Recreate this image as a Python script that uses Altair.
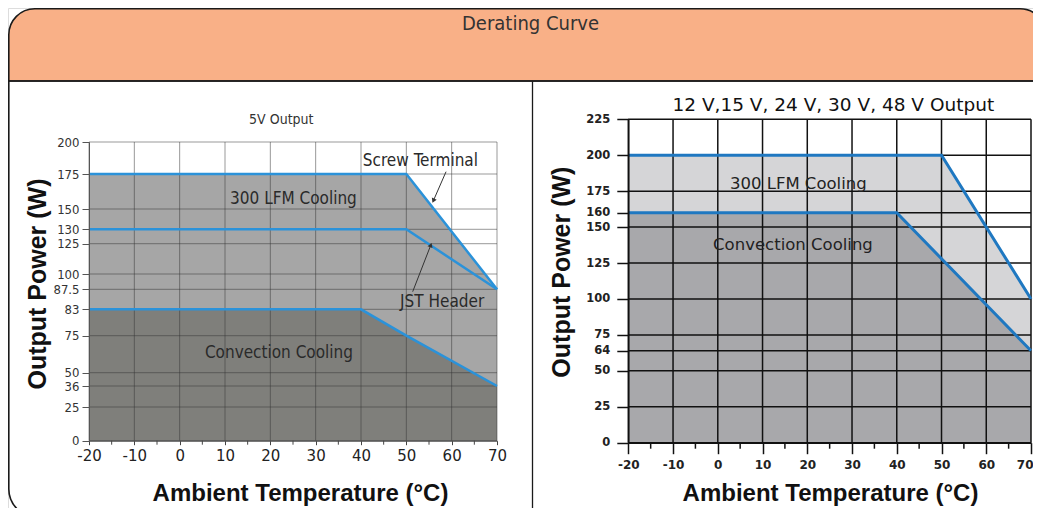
import altair as alt
import pandas as pd

# ---------------- data: 5 V panel ----------------
temps_axis = [-20, -10, 0, 10, 20, 30, 40, 50, 60, 70]
temps_minor = [-15, -5, 5, 15, 25, 35, 45, 55, 65]

screw_t = [-20, 50, 70]
screw_w = [175, 175, 87.5]
jst_t = [-20, 50, 70]
jst_w = [130, 130, 87.5]
conv5_t = [-20, 40, 50, 70]
conv5_w = [83, 83, 75, 36]
ticks_5v = [0, 25, 36, 50, 75, 83, 87.5, 100, 125, 130, 150, 175, 200]

# ---------------- data: 12-48 V panel ----------------
lfm_t = [-20, 50, 70]
lfm_w = [200, 200, 100]
convh_t = [-20, 40, 70]
convh_w = [160, 160, 64]
ticks_hv = [0, 25, 50, 64, 75, 100, 125, 150, 160, 175, 200, 225]

# ---------------- styling ----------------
NARROW = "Liberation Sans Narrow, Arial Narrow, DejaVu Sans Condensed, sans-serif"
SANS = "Liberation Sans, Arial, sans-serif"
DJV = "DejaVu Sans, Verdana, sans-serif"
H = 500
W = 1025

# plot-area ranges (pixels inside the chart)
L_XRANGE = [81, 489]
L_YRANGE = [432.7, 399, 378, 364.7, 327.7, 301.3, 281.3, 266, 235.7, 221.3, 201, 166, 134]
R_XRANGE = [620.3, 1023]
R_YRANGE = [434.7, 111.3]

LXS = alt.Scale(domain=[-20, 70], range=L_XRANGE, nice=False, zero=False)
LYS = alt.Scale(domain=ticks_5v, range=L_YRANGE, nice=False, zero=False)
RXS = alt.Scale(domain=[-20, 70], range=R_XRANGE, nice=False, zero=False)
RYS = alt.Scale(domain=[0, 225], range=R_YRANGE, nice=False, zero=False)

LBL = "'' + datum.value"
common_title = dict(titleFontWeight="bold", titleColor="#111", titleBaseline="middle", titleAlign="center")

LXA = alt.Axis(orient="bottom", offset=L_YRANGE[0] - H, values=temps_axis, grid=False,
               tickSize=4, tickColor="#444", domainColor="#444", domainWidth=1,
               labelFont=DJV, labelFontSize=15, labelColor="#222", labelPadding=4,
               labelFlush=False, labelOverlap=False, labelExpr=LBL,
               title="Ambient Temperature (°C)", titleFont=SANS, titleFontSize=24,
               titleX=292, titleY=52.3, zindex=1, **common_title)
LYA = alt.Axis(orient="left", offset=-L_XRANGE[0], values=ticks_5v, grid=False,
               tickSize=7, tickColor="#555", domainColor="#555", domainWidth=1,
               labelFont=NARROW, labelFontSize=13, labelColor="#333", labelPadding=3,
               labelFlush=False, labelOverlap=False, labelExpr=LBL,
               title="Output Power (W)", titleFont=SANS, titleFontSize=25,
               titleAngle=270, titleX=-51.5, titleY=275.5, zindex=1, **common_title)
RXA = alt.Axis(orient="bottom", offset=R_YRANGE[0] - H, values=temps_axis, grid=False,
               tickSize=11, tickWidth=1.5, tickColor="#111", domainColor="#111", domainWidth=1.5,
               labelFont=DJV, labelFontSize=12, labelFontWeight="bold", labelColor="#222",
               labelPadding=6, labelFlush=False, labelOverlap=False, labelExpr=LBL,
               labelAlign={"condition": {"test": "datum.value == 70", "value": "right"}, "value": "center"},
               labelOffset={"condition": {"test": "datum.value == 70", "value": 2}, "value": 0},
               title="Ambient Temperature (°C)", titleFont=SANS, titleFontSize=24,
               titleX=822, titleY=50.3, zindex=1, **common_title)
RYA = alt.Axis(orient="left", offset=-R_XRANGE[0], values=ticks_hv, grid=False,
               tickSize=11.5, tickWidth=1.5, tickColor="#111", domainColor="#111", domainWidth=1.5,
               labelFont=DJV, labelFontSize=11.5, labelFontWeight="bold", labelColor="#222",
               labelPadding=7, labelFlush=False, labelOverlap=False, labelExpr=LBL,
               title="Output Power (W)", titleFont=SANS, titleFontSize=25,
               titleAngle=270, titleX=-67.3, titleY=263.6, zindex=1, **common_title)


def enc(xs, xa, ys, ya):
    def X(field=None, datum=None):
        if field is not None:
            return alt.X(f"{field}:Q", scale=xs, axis=xa)
        return alt.X(datum=datum, type="quantitative", scale=xs, axis=xa)

    def Y(field=None, datum=None):
        if field is not None:
            return alt.Y(f"{field}:Q", scale=ys, axis=ya)
        return alt.Y(datum=datum, type="quantitative", scale=ys, axis=ya)
    return X, Y


LX, LY = enc(LXS, LXA, LYS, LYA)
RX, RY = enc(RXS, RXA, RYS, RYA)


def df(t, w):
    return pd.DataFrame({"x": t, "y": w})


# ---------------- left panel (5 V) ----------------
L_BLUE = "#2b92d9"
l_area_lfm = alt.Chart(df(screw_t, screw_w)).mark_area(color="#a6a6a6", opacity=1).encode(
    x=LX("x"), y=LY("y"), y2=alt.datum(0))
l_area_conv = alt.Chart(df(conv5_t, conv5_w)).mark_area(color="#7f7f7b", opacity=1).encode(
    x=LX("x"), y=LY("y"), y2=alt.datum(0))
l_vgrid = alt.Chart(pd.DataFrame({"x": temps_axis})).mark_rule(
    color="#333333", opacity=0.5, strokeWidth=1).encode(
    x=LX("x"), y=LY(datum=0), y2=alt.datum(200))
l_hgrid = alt.Chart(pd.DataFrame({"y": ticks_5v})).mark_rule(
    color="#333333", opacity=0.5, strokeWidth=1).encode(
    y=LY("y"), x=LX(datum=-20), x2=alt.datum(70))
l_minor = alt.Chart(pd.DataFrame({"x": temps_minor})).mark_rule(
    color="#444", strokeWidth=1, y2Offset=4).encode(
    x=LX("x"), y=LY(datum=0), y2=alt.datum(0))
l_lines = [
    alt.Chart(df(t, w)).mark_line(color=L_BLUE, strokeWidth=2.5).encode(x=LX("x"), y=LY("y"))
    for t, w in [(screw_t, screw_w), (jst_t, jst_w), (conv5_t, conv5_w)]
]


def ltext(txt, x, y, size=17):
    return alt.Chart(pd.DataFrame({"k": [0]})).mark_text(
        text=txt, font=NARROW, fontSize=size, color="#2a2a2a", align="center", baseline="middle"
    ).encode(x=LX(datum=x), y=LY(datum=y))


l_texts = [
    ltext("Screw Terminal", 53.1, 185.2),
    ltext("300 LFM Cooling", 25.1, 156.9),
    ltext("JST Header", 57.9, 84.7),
    ltext("Convection Cooling", 21.9, 63.1),
]


def arrow(x0, y0, x1, y1, shape, ang):
    shaft = alt.Chart(pd.DataFrame({"k": [0]})).mark_rule(color="#333", strokeWidth=1).encode(
        x=LX(datum=x0), y=LY(datum=y0), x2=alt.datum(x1), y2=alt.datum(y1))
    head = alt.Chart(pd.DataFrame({"k": [0]})).mark_point(
        shape=shape, filled=True, size=28, angle=ang, color="#333", opacity=1).encode(
        x=LX(datum=x1), y=LY(datum=y1))
    return [shaft, head]


l_arrows = arrow(58.76, 176.8, 55.96, 155.9, "triangle-down", 24) + \
    arrow(51.4, 86.96, 55.4, 123.9, "triangle-up", 21)

left = alt.layer(l_area_lfm, l_area_conv, l_vgrid, l_hgrid, l_minor, *l_lines, *l_texts, *l_arrows)

# ---------------- right panel (12-48 V) ----------------
R_BLUE = "#1f78c1"
r_area_lfm = alt.Chart(df(lfm_t, lfm_w)).mark_area(color="#d5d5d7", opacity=1).encode(
    x=RX("x"), y=RY("y"), y2=alt.datum(0))
r_area_conv = alt.Chart(df(convh_t, convh_w)).mark_area(color="#a8a8ab", opacity=1).encode(
    x=RX("x"), y=RY("y"), y2=alt.datum(0))
r_vgrid = alt.Chart(pd.DataFrame({"x": temps_axis})).mark_rule(
    color="#111", strokeWidth=1.5).encode(
    x=RX("x"), y=RY(datum=0), y2=alt.datum(225))
r_hgrid = alt.Chart(pd.DataFrame({"y": ticks_hv})).mark_rule(
    color="#111", strokeWidth=1.5).encode(
    y=RY("y"), x=RX(datum=-20), x2=alt.datum(70))
r_minor = alt.Chart(pd.DataFrame({"x": temps_minor})).mark_rule(
    color="#111", strokeWidth=1.5, y2Offset=6).encode(
    x=RX("x"), y=RY(datum=0), y2=alt.datum(0))
r_lines = [
    alt.Chart(df(t, w)).mark_line(color=R_BLUE, strokeWidth=3).encode(x=RX("x"), y=RY("y"))
    for t, w in [(lfm_t, lfm_w), (convh_t, convh_w)]
]


def rtext(txt, x, y):
    return alt.Chart(pd.DataFrame({"k": [0]})).mark_text(
        text=txt, font=DJV, fontSize=16.5, color="#222", align="center", baseline="middle"
    ).encode(x=RX(datum=x), y=RY(datum=y))


r_texts = [rtext("300 LFM Cooling", 18.0, 180.1), rtext("Convection Cooling", 16.8, 137.2)]

right = alt.layer(r_area_lfm, r_area_conv, r_vgrid, r_hgrid, r_minor, *r_lines, *r_texts)

# ---------------- frame, header and titles ----------------
one = pd.DataFrame({"k": [0]})
frame = alt.Chart(one).mark_rect(
    fill="white", fillOpacity=0, stroke="#1a1a1a", strokeWidth=1.6,
    cornerRadiusBottomLeft=28, cornerRadiusBottomRight=28).encode(
    x=alt.value(0.8), x2=alt.value(1038), y=alt.value(73), y2=alt.value(509))
header = alt.Chart(one).mark_rect(
    fill="#f9b087", stroke="#1a1a1a", strokeWidth=1.6,
    cornerRadiusTopLeft=26, cornerRadiusTopRight=26).encode(
    x=alt.value(0.8), x2=alt.value(1038), y=alt.value(0.8), y2=alt.value(73))
divider = alt.Chart(one).mark_rule(color="#1a1a1a", strokeWidth=1.3).encode(
    x=alt.value(524.5), y=alt.value(73), y2=alt.value(H))
t_main = alt.Chart(one).mark_text(
    text="Derating Curve", font=NARROW, fontSize=20, color="#333", align="center", baseline="middle"
).encode(x=alt.value(522.5), y=alt.value(16))
t_left = alt.Chart(one).mark_text(
    text="5V Output", font=NARROW, fontSize=14, color="#333", align="center", baseline="middle"
).encode(x=alt.value(273.3), y=alt.value(111.5))
t_right = alt.Chart(one).mark_text(
    text="12 V,15 V, 24 V, 30 V, 48 V Output", font=DJV, fontSize=18.5, color="#111",
    align="center", baseline="middle"
).encode(x=alt.value(825.3), y=alt.value(96.5))

chart = alt.layer(
    header, frame, divider, t_main, t_left, t_right, left, right
).resolve_scale(x="independent", y="independent").resolve_axis(
    x="independent", y="independent"
).properties(
    width=W, height=H, padding=0, autosize=alt.AutoSizeParams(type="none")
).configure_view(strokeWidth=0).configure(background="white")

chart.save("out.html", embed_options={"renderer": "svg", "actions": False})
